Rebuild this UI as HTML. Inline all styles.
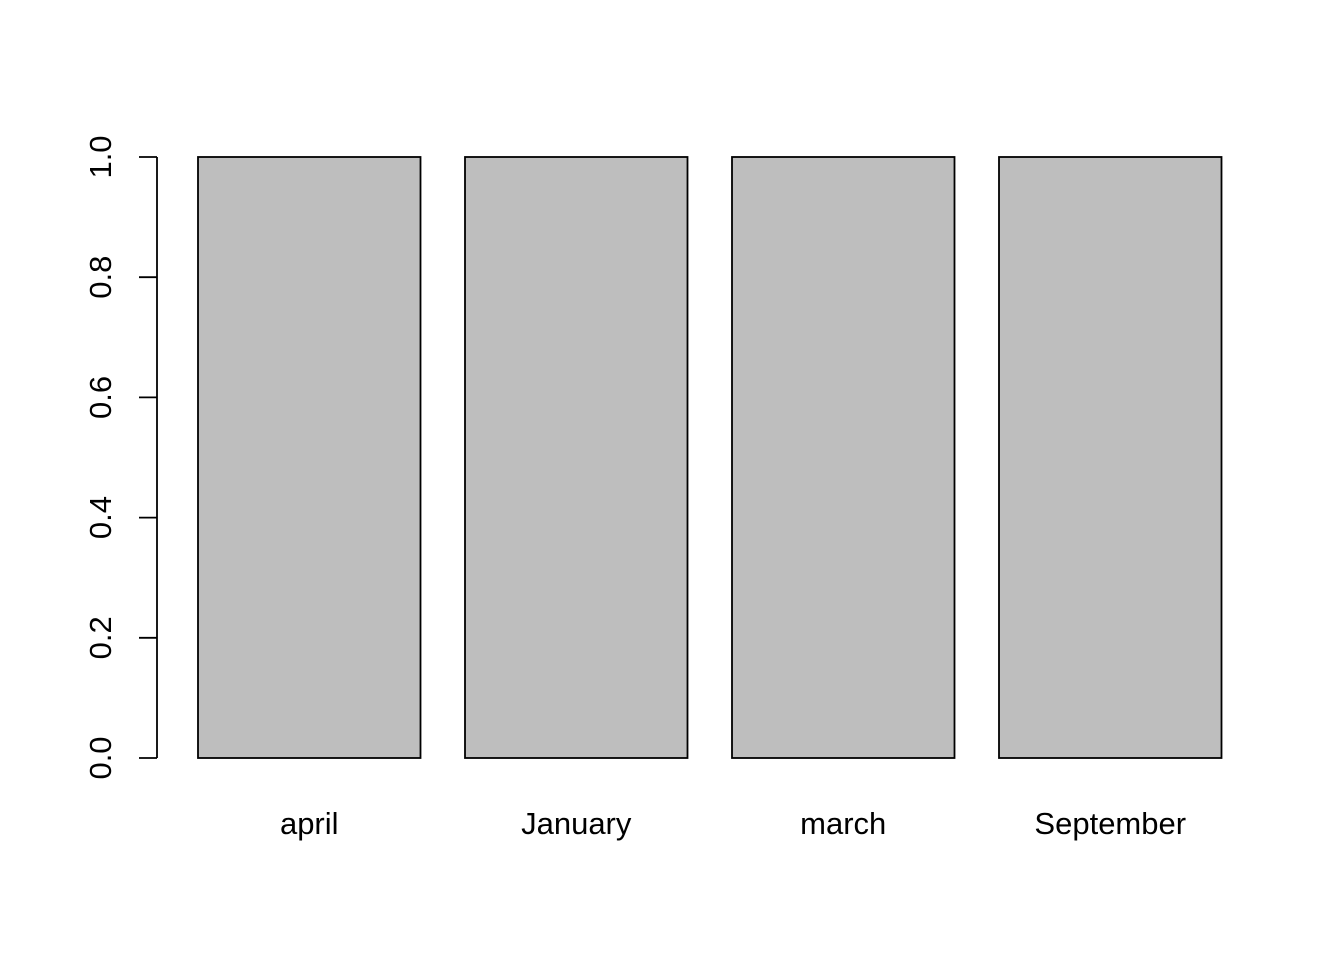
<!DOCTYPE html>
<html><head><meta charset="utf-8"><style>
html,body{margin:0;padding:0;background:#fff;}
svg{display:block;font-family:"Liberation Sans",Arial,sans-serif;}
</style></head><body>
<svg id="chart" width="1344" height="960" viewBox="0 0 1344 960">
<g id="bars"></g>
<g id="yaxis"></g>
<g id="xlabels"></g>
</svg>
<script>
const categories = ["april", "January", "march", "September"];
const values = [1, 1, 1, 1];
const yTicks = [0, 0.2, 0.4, 0.6, 0.8, 1.0];
const yTickLabels = ["0.0", "0.2", "0.4", "0.6", "0.8", "1.0"];

const NS = "http://www.w3.org/2000/svg";
const y0px = 758, y1px = 157;
function yScale(v){ return y0px - (v/1.0)*(y0px - y1px); }
const unit = 222.5, origin = 153.5, space = 0.2;
function xLeft(i){ return origin + (space + i*(1+space))*unit; }
function mk(tag, attrs, parent){ const e=document.createElementNS(NS,tag); for(const k in attrs) e.setAttribute(k,attrs[k]); parent.appendChild(e); return e; }

const gb=document.getElementById('bars'), gy=document.getElementById('yaxis'), gx=document.getElementById('xlabels');
categories.forEach((c,i)=>{
  const x=xLeft(i), yt=yScale(values[i]), yb=yScale(0);
  const r=mk('rect',{x:x,y:Math.min(yt,yb),width:unit,height:Math.abs(yb-yt),fill:'#bebebe',stroke:'#000','stroke-width':1.8},gb);
  
  
  const t=mk('text',{x:x+unit/2,y:834,'text-anchor':'middle','font-size':31,fill:'#000'},gx);
  t.textContent=c;
  
  
});
const ax=mk('line',{x1:157,x2:157,y1:yScale(yTicks[0]),y2:yScale(yTicks[yTicks.length-1]),stroke:'#000','stroke-width':1.8},gy);


yTicks.forEach((v,i)=>{
  const y=yScale(v);
  const tk=mk('line',{x1:139,x2:157,y1:y,y2:y,stroke:'#000','stroke-width':1.8},gy);
  
  
  const t=mk('text',{x:0,y:0,transform:`translate(111,${y}) rotate(-90)`,'text-anchor':'middle','font-size':31,fill:'#000'},gy);
  t.textContent=yTickLabels[i];
  
  
});
</script>
</body></html>
